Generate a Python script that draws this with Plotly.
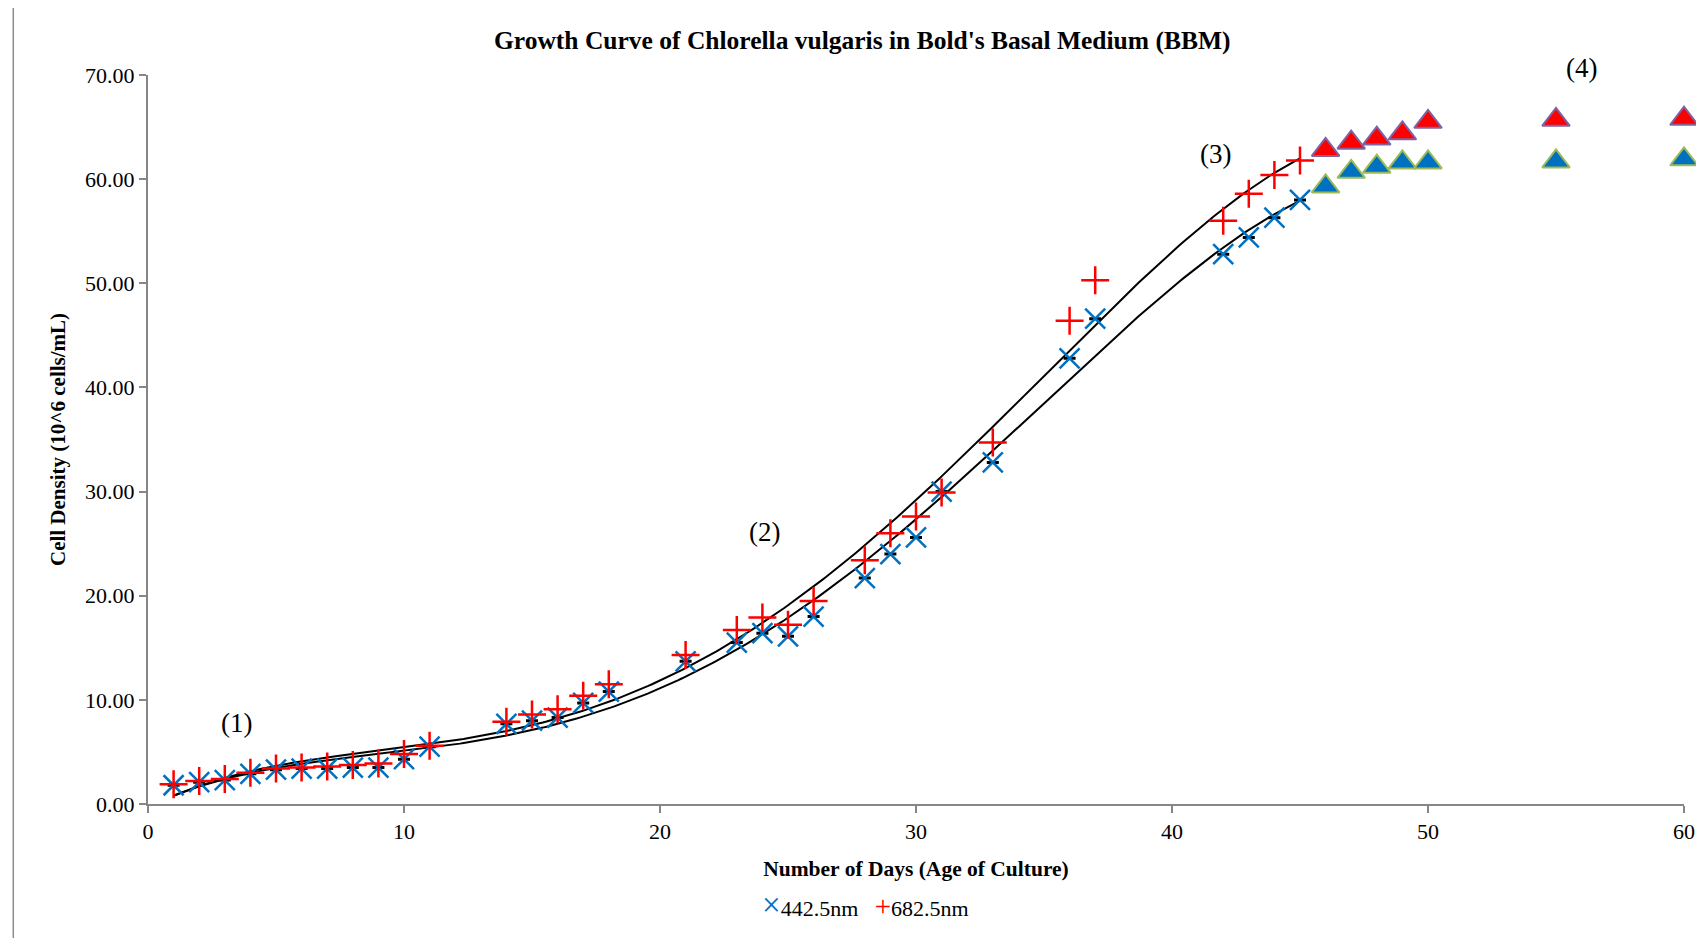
import numpy as np
import plotly.graph_objects as go

days = [1, 2, 3, 4, 5, 6, 7, 8, 9, 10, 11, 14, 15, 16, 17, 18, 21, 23, 24, 25, 26,
        28, 29, 30, 31, 33, 36, 37, 42, 43, 44, 45]
od442 = [1.8, 2.1, 2.3, 2.9, 3.3, 3.4, 3.4, 3.5, 3.5, 4.3, 5.5, 7.7, 8.0, 8.3, 9.7, 10.8,
         13.7, 15.5, 16.4, 16.1, 18.0, 21.7, 24.0, 25.6, 30.0, 32.8, 42.8, 46.6,
         52.8, 54.4, 56.3, 58.0]
od682 = [1.9, 2.2, 2.4, 3.0, 3.4, 3.5, 3.6, 3.75, 3.9, 4.8, 5.6, 7.9, 8.6, 9.1, 10.4, 11.5,
         14.3, 16.7, 17.9, 17.2, 19.5, 23.4, 26.0, 27.6, 29.9, 34.7, 46.4, 50.3,
         56.0, 58.6, 60.4, 61.8]

stat_days = [46, 47, 48, 49, 50, 55, 60]
stat442 = [59.3, 60.7, 61.2, 61.6, 61.6, 61.7, 61.9]
stat682 = [62.8, 63.5, 63.9, 64.4, 65.5, 65.7, 65.8]

series_names = ["442.5nm", "682.5nm"]

x_ticks = [0, 10, 20, 30, 40, 50, 60]
y_ticks = [0, 10, 20, 30, 40, 50, 60, 70]

phase_labels = ["(1)", "(2)", "(3)", "(4)"]
phase_x = [3.45, 24.1, 41.7, 56.0]
phase_y = [7.8, 26.1, 62.4, 70.7]

TREND_ORDER = 4
Y_MAX = 70
PX_PER_Y = 729.2 / Y_MAX

FONT = "Liberation Serif, Times New Roman, serif"
BLUE = "#0070C0"
RED = "#FF0000"
AXIS = "#868686"

fig = go.Figure()

# polynomial trendlines (fitted to the data, like spreadsheet trendlines)
xs = np.linspace(min(days), max(days), 300)
for ys in (od442, od682):
    coef = np.polyfit(days, ys, TREND_ORDER)
    fig.add_trace(go.Scatter(x=xs, y=np.polyval(coef, xs), mode="lines",
                             line=dict(color="black", width=2), showlegend=False,
                             hoverinfo="skip"))

err = dict(type="constant", value=0, width=6, thickness=3, color="black")

fig.add_trace(go.Scatter(x=days, y=od442, mode="markers", name=series_names[0],
                         showlegend=False,
                         marker=dict(symbol="x-thin", size=20,
                                     line=dict(color=BLUE, width=2.5)),
                         error_y=err))
fig.add_trace(go.Scatter(x=days, y=od682, mode="markers", name=series_names[1],
                         showlegend=False,
                         marker=dict(symbol="cross-thin", size=20,
                                     line=dict(color=RED, width=2.5))))

fig.add_trace(go.Scatter(x=stat_days, y=stat682, mode="markers", showlegend=False,
                         cliponaxis=False,
                         marker=dict(symbol="triangle-up", size=24, color=RED,
                                     line=dict(color="#8064A2", width=2))))
fig.add_trace(go.Scatter(x=stat_days, y=stat442, mode="markers", showlegend=False,
                         cliponaxis=False,
                         marker=dict(symbol="triangle-up", size=24, color=BLUE,
                                     line=dict(color="#9BBB59", width=2))))

for t, x, y in zip(phase_labels, phase_x, phase_y):
    y_in = min(y, Y_MAX)
    fig.add_annotation(x=x, y=y_in, yshift=(y - y_in) * PX_PER_Y, text=t,
                       showarrow=False,
                       font=dict(family=FONT, size=27, color="black"))

fig.add_annotation(xref="paper", yref="paper", x=0.465, y=1.0 + 35 / 729.2,
                   text="<b>Growth Curve of Chlorella vulgaris in Bold's Basal Medium (BBM)</b>",
                   showarrow=False, xanchor="center", yanchor="middle",
                   font=dict(family=FONT, size=25.5, color="black"))

# legend drawn as a text line below the axis title
legend_text = (f"<span style='color:{BLUE};font-size:33px'>×</span>{series_names[0]}"
               f"&nbsp;&nbsp;&nbsp;<span style='color:{RED};font-size:29px'>+</span>"
               f"{series_names[1]}")
fig.add_annotation(xref="paper", yref="paper", x=0.467, y=-0.138, text=legend_text,
                   showarrow=False, xanchor="center", yanchor="middle",
                   font=dict(family=FONT, size=22, color="black"))

# chart frame (left and top edges visible)
fig.add_shape(type="line", xref="paper", yref="paper", x0=-0.0877, x1=-0.0877,
              y0=-0.2, y1=1.096, line=dict(color="#8c8c8c", width=1.5))
fig.add_shape(type="line", xref="paper", yref="paper", x0=-0.0877, x1=1.02,
              y0=1.096, y1=1.096, line=dict(color="#8c8c8c", width=1.5))

fig.update_layout(
    width=1696, height=930,
    margin=dict(l=140, r=20, t=67, b=134, autoexpand=False),
    paper_bgcolor="white", plot_bgcolor="white",
    font=dict(family=FONT, size=20, color="black"),
    showlegend=False,
    xaxis=dict(range=[0, 60], tickvals=x_ticks, showgrid=False, zeroline=False,
               showline=True, linecolor=AXIS, linewidth=2, ticks="outside",
               tickcolor=AXIS, ticklen=7, tickwidth=2,
               tickfont=dict(family=FONT, size=22),
               title=dict(text="<b>Number of Days (Age of Culture)</b>",
                          font=dict(family=FONT, size=21.5), standoff=18)),
    yaxis=dict(range=[0, Y_MAX], tickvals=y_ticks, tickformat=".2f", showgrid=False,
               zeroline=False, showline=True, linecolor=AXIS, linewidth=2,
               ticks="outside", tickcolor=AXIS, ticklen=7, tickwidth=2,
               tickfont=dict(family=FONT, size=22),
               title=dict(text="<b>Cell Density (10^6 cells/mL)</b>",
                          font=dict(family=FONT, size=21), standoff=14)),
)

fig.write_html("out.html")
